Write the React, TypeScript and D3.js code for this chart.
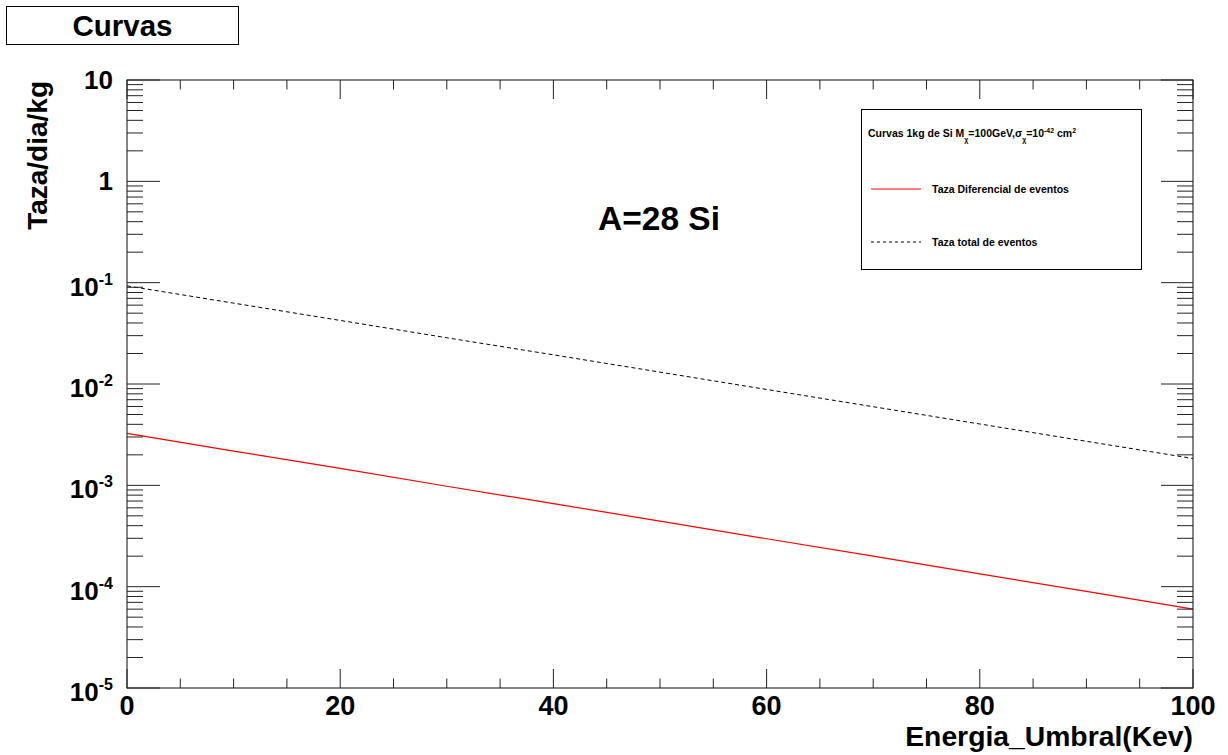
import React from "react";
import * as d3 from "d3";

const energia = [0, 10, 20, 30, 40, 50, 60, 70, 80, 90, 100];
const tazaDiferencial = [3.25e-3, 2.18e-3, 1.47e-3, 9.8e-4, 6.6e-4, 4.43e-4, 2.97e-4, 2.0e-4, 1.34e-4, 8.98e-5, 6.0e-5];
const tazaTotal = [0.093, 0.0628, 0.0424, 0.0286, 0.0194, 0.0131, 0.00883, 0.00597, 0.00403, 0.00272, 0.00184];
const xMajorTicks = [0, 20, 40, 60, 80, 100];
const yDecadeExps = [-5, -4, -3, -2, -1, 0, 1];

const FONT = "'Liberation Sans', Arial, Helvetica, sans-serif";

export default function App() {
  const W = 1228, H = 755;
  const L = 127, R = 1193, T = 80, B = 688;
  const x = d3.scaleLinear().domain([0, 100]).range([L, R]);
  const y = d3.scaleLog().domain([1e-5, 10]).range([B, T]);

  const xMinor = d3.range(0, 101, 5).filter((v) => v % 20 !== 0);
  const yMinor: number[] = [];
  yDecadeExps.slice(0, -1).forEach((e) => {
    for (let k = 2; k <= 9; k++) yMinor.push(k * Math.pow(10, e));
  });

  const pts = (vals: number[]) => energia.map((e, i) => [e, vals[i]] as [number, number]);
  const line = d3
    .line<[number, number]>()
    .x((d) => x(d[0]))
    .y((d) => y(d[1]));

  const tickColor = "#222";

  return (
    <svg
      width={W}
      height={H}
      style={{ position: "absolute", left: 0, top: 0, background: "#fff" }}
      fontFamily={FONT}
    >
      <rect x={0} y={0} width={W} height={H} fill="#fff" />
      {/* Title box */}
      <rect x={6.5} y={6.5} width={232} height={38} fill="#fff" stroke="#000" strokeWidth={1} />
      <text x={122.5} y={36} textAnchor="middle" fontWeight="bold" fontSize={29.5}>
        Curvas
      </text>

      {/* Data lines */}
      <path d={line(pts(tazaTotal)) || ""} fill="none" stroke="#000" strokeWidth={1} strokeDasharray="4,3" />
      <path d={line(pts(tazaDiferencial)) || ""} fill="none" stroke="#ff0000" strokeWidth={1.2} />

      {/* Frame */}
      <rect x={L} y={T} width={R - L} height={B - T} fill="none" stroke="#333" strokeWidth={1.2} />

      {/* X ticks bottom & top */}
      {xMajorTicks.map((v) => (
        <g key={"xM" + v}>
          <line x1={x(v)} x2={x(v)} y1={B} y2={B - 19} stroke={tickColor} />
          <line x1={x(v)} x2={x(v)} y1={T} y2={T + 19} stroke={tickColor} />
          <text x={x(v)} y={715} textAnchor="middle" fontWeight="bold" fontSize={27}>
            {v}
          </text>
        </g>
      ))}
      {xMinor.map((v) => (
        <g key={"xm" + v}>
          <line x1={x(v)} x2={x(v)} y1={B} y2={B - 9.5} stroke={tickColor} />
          <line x1={x(v)} x2={x(v)} y1={T} y2={T + 9.5} stroke={tickColor} />
        </g>
      ))}

      {/* Y ticks left & right */}
      {yDecadeExps.map((e) => {
        const v = Math.pow(10, e);
        const yy = y(v);
        let label: React.ReactNode;
        if (e === 0) {
          label = (
            <text x={113} y={yy + 9} textAnchor="end" fontWeight="bold" fontSize={26}>
              1
            </text>
          );
        } else if (e === 1) {
          label = (
            <text x={113} y={yy + 9} textAnchor="end" fontWeight="bold" fontSize={26}>
              10
            </text>
          );
        } else {
          label = (
            <text x={113} y={yy + 13} textAnchor="end" fontWeight="bold" fontSize={26}>
              10
              <tspan fontSize={16} dy={-11}>
                {String(e)}
              </tspan>
            </text>
          );
        }
        return (
          <g key={"yM" + e}>
            <line x1={L} x2={L + 33} y1={yy} y2={yy} stroke={tickColor} />
            <line x1={R} x2={R - 32} y1={yy} y2={yy} stroke={tickColor} />
            {label}
          </g>
        );
      })}
      {yMinor.map((v, i) => (
        <g key={"ym" + i}>
          <line x1={L} x2={L + 16} y1={y(v)} y2={y(v)} stroke={tickColor} />
          <line x1={R} x2={R - 16} y1={y(v)} y2={y(v)} stroke={tickColor} />
        </g>
      ))}

      {/* Axis titles */}
      <text x={R} y={746} textAnchor="end" fontWeight="bold" fontSize={28.3}>
        Energia_Umbral(Kev)
      </text>
      <text
        transform={`translate(47, ${T + 1}) rotate(-90)`}
        textAnchor="end"
        fontWeight="bold"
        fontSize={28}
      >
        Taza/dia/kg
      </text>

      {/* Annotation */}
      <text x={598} y={230} fontWeight="bold" fontSize={33.5}>
        A=28 Si
      </text>

      {/* Legend */}
      <rect x={861.5} y={109.5} width={280} height={160} fill="#fff" stroke="#000" strokeWidth={1} />
      <text x={868} y={137} fontWeight="bold" fontSize={10.5}>
        Curvas 1kg de Si M
        <tspan fontSize={7} dy={5}>χ</tspan>
        <tspan dy={-5}>=100GeV,σ</tspan>
        <tspan fontSize={7} dy={5}>χ</tspan>
        <tspan dy={-5}>=10</tspan>
        <tspan fontSize={7} dy={-4}>-42</tspan>
        <tspan dy={4}> cm</tspan>
        <tspan fontSize={7} dy={-4}>2</tspan>
      </text>
      <line x1={871} x2={921} y1={189} y2={189} stroke="#ff0000" strokeWidth={1} />
      <text x={932} y={193} fontWeight="bold" fontSize={10.5}>
        Taza Diferencial de eventos
      </text>
      <line x1={871} x2={921} y1={242} y2={242} stroke="#000" strokeWidth={1} strokeDasharray="3,3" />
      <text x={932} y={246} fontWeight="bold" fontSize={10.5}>
        Taza total de eventos
      </text>
    </svg>
  );
}
